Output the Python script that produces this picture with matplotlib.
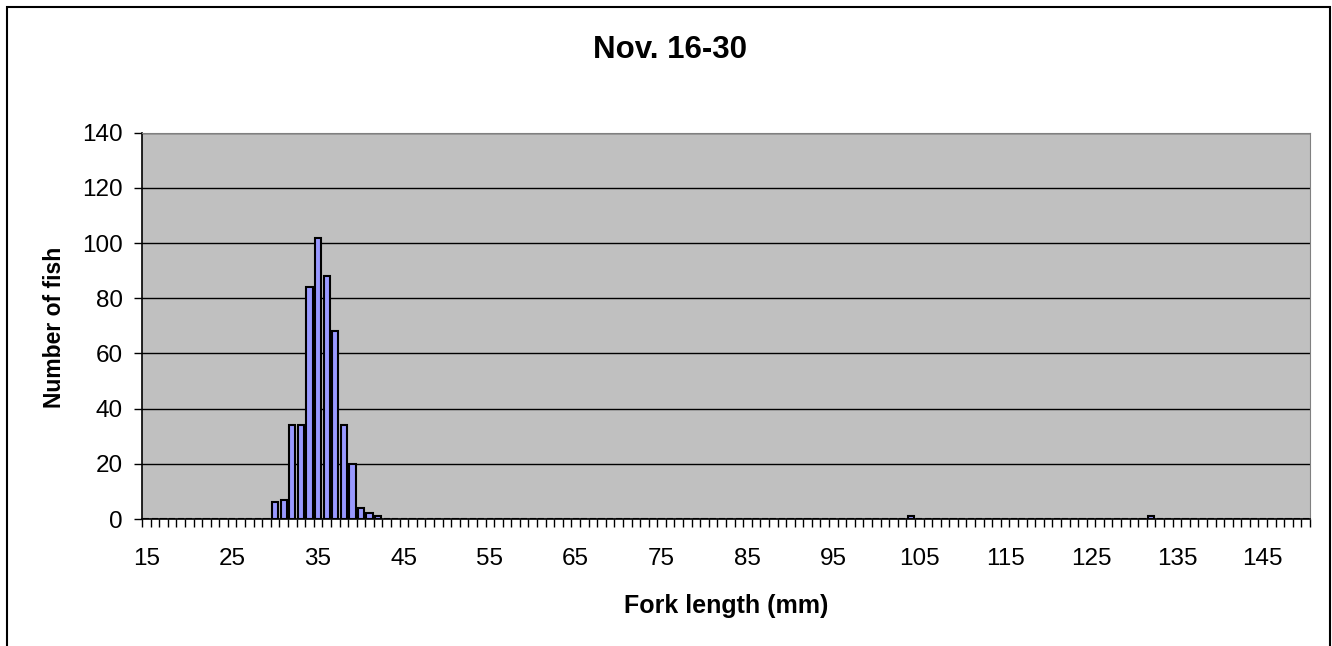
import matplotlib
matplotlib.use('Agg')
import matplotlib.pyplot as plt
import numpy as np
from matplotlib.patches import Rectangle

# Fork length categories (mm) and the non-zero counts
lengths = list(range(15, 151))
observed_lengths = [30, 31, 32, 33, 34, 35, 36, 37, 38, 39, 40, 41, 42, 104, 132]
observed_counts = [6, 7, 34, 34, 84, 102, 88, 68, 34, 20, 4, 2, 1, 1, 1]
tick_labels = [str(v) for v in range(15, 151, 10)]
y_ticks = [0, 20, 40, 60, 80, 100, 120, 140]

counts = np.zeros(len(lengths))
for length, n in zip(observed_lengths, observed_counts):
    counts[lengths.index(length)] = n


def main():
    plt.rcParams['font.family'] = ['Liberation Sans', 'DejaVu Sans']

    fig = plt.figure(figsize=(13.32, 6.46), dpi=100)
    ax = fig.add_axes([142 / 1332, 1 - 519 / 646, (1310 - 142) / 1332, (519 - 132.7) / 646])

    # chart-area border
    fig.patches.append(Rectangle((7 / 1332, -0.05), (1330 - 7) / 1332, 1 - 7 / 646 + 0.05,
                                 transform=fig.transFigure, fill=False,
                                 edgecolor='black', linewidth=1.5))

    x = np.arange(len(lengths))
    ax.set_facecolor('#C0C0C0')
    ax.bar(x, counts, width=0.72, color='#9999FF', edgecolor='black', linewidth=1.5, zorder=3)

    ax.set_xlim(-0.5, len(lengths) - 0.5)
    ax.set_ylim(0, 140)
    ax.set_yticks(y_ticks)
    ax.yaxis.grid(True, color='black', linewidth=1)
    ax.set_axisbelow(True)

    ax.set_xticks([lengths.index(int(t)) for t in tick_labels])
    ax.set_xticklabels(tick_labels)
    ax.set_xticks(np.arange(-0.5, len(lengths)), minor=True)
    ax.tick_params(axis='x', which='major', length=0, pad=21, labelsize=17.5)
    ax.tick_params(axis='x', which='minor', length=6, width=1, direction='out')
    ax.tick_params(axis='y', length=6, width=1, pad=8, labelsize=17.5)

    for side in ['top', 'right']:
        ax.spines[side].set_color('#808080')
    for side in ['left', 'bottom']:
        ax.spines[side].set_color('black')
        ax.spines[side].set_linewidth(1.2)

    fig.text(670 / 1332, 1 - 50 / 646, 'Nov. 16-30', ha='center', va='center',
             fontsize=22.5, fontweight='bold')
    fig.text(726 / 1332, 1 - 606 / 646, 'Fork length (mm)', ha='center', va='center',
             fontsize=18, fontweight='bold')
    fig.text(55 / 1332, 1 - 327 / 646, 'Number of fish', ha='center', va='center',
             rotation=90, fontsize=16.5, fontweight='bold')

    fig.savefig('out.png', dpi=100, facecolor='white')


if __name__ == '__main__':
    main()
